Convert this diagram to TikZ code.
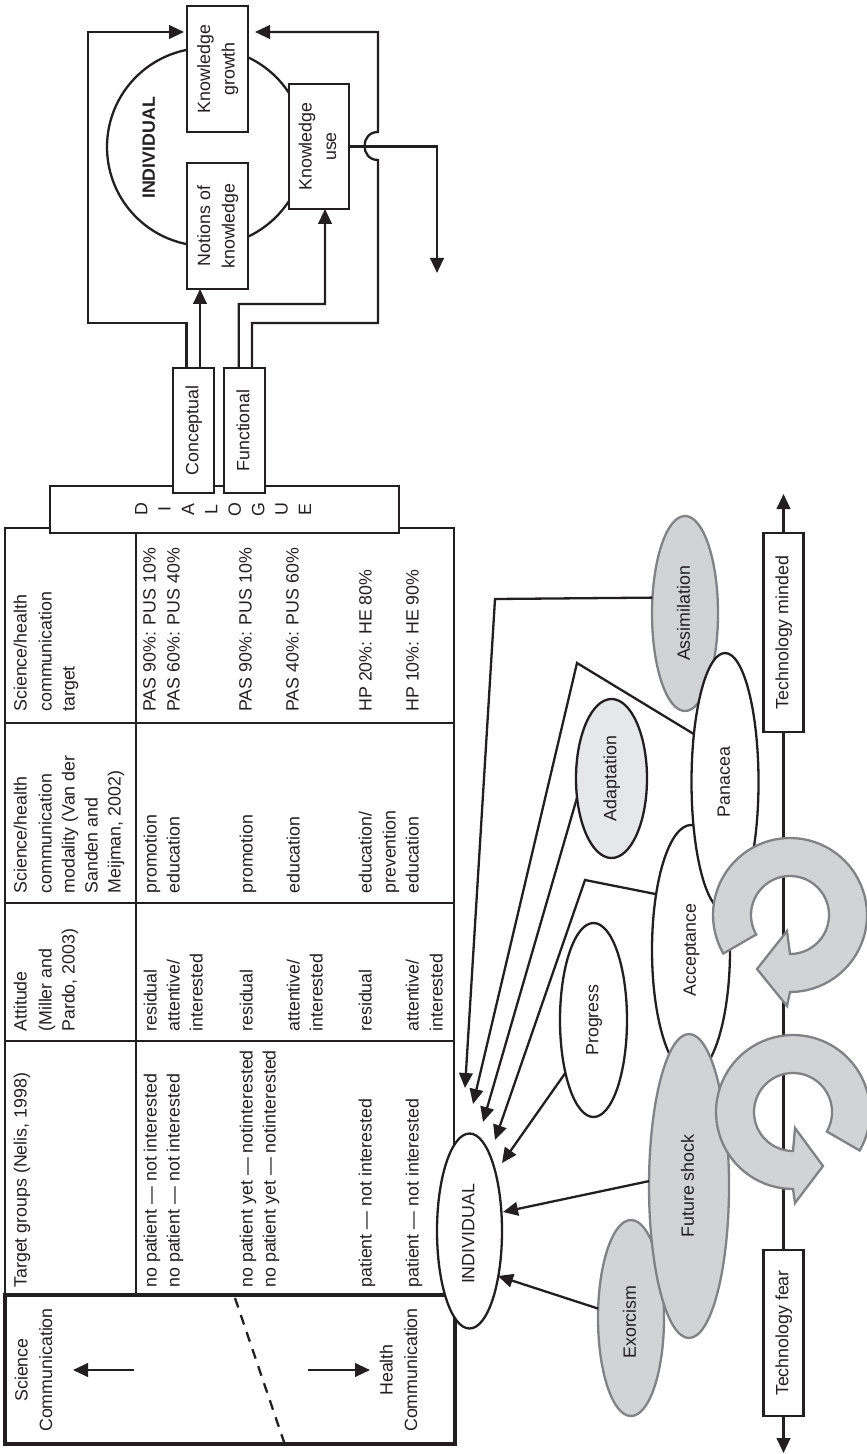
\documentclass[tikz,border=0pt]{standalone}
\usepackage{fontspec}
\usepackage{graphicx}
\setmainfont{Liberation Sans}
\usetikzlibrary{shapes.geometric,arrows.meta}
\definecolor{ink}{HTML}{231F20}
\definecolor{ringfill}{HTML}{D1D3D4}
\definecolor{ringline}{HTML}{808285}
\definecolor{paleg}{HTML}{E6E7E8}
\newcommand{\rt}[1]{\rotatebox{90}{\def\arraystretch{1.05}\begin{tabular}{@{}c@{}}#1\end{tabular}}}
\newcommand{\rtd}[1]{\rotatebox{90}{\def\arraystretch{1}\begin{tabular}{@{}c@{}}#1\end{tabular}}}
\tikzset{
  base/.style={line width=1.15pt,draw=ink,text=ink,inner sep=0pt,outer sep=0pt,line join=miter},
  boxn/.style={base,rectangle,fill=white},
  ell/.style={base,ellipse,fill=white},
  ellg/.style={base,ellipse,fill=ringfill,draw=ringline},
  arrowline/.style={line width=1.15pt,draw=ink,-{Triangle[length=7.5pt,width=6.8pt]},line join=miter},
  plain/.style={line width=1.15pt,draw=ink,line join=miter},
  cell/.style={rotate=90,anchor=west,inner sep=0pt,text=ink,text height=6.5pt,text depth=1.9pt},
  lbl/.style={inner sep=0pt,text=ink},
  ringshape/.style={line width=1.15pt,draw=ringline,fill=ringfill,line join=miter},
}
\begin{document}
\begin{tikzpicture}[x=0.5pt,y=-0.5pt,font=\fontsize{8.9}{11.7}\selectfont]
\useasboundingbox[fill=white] (0,0) rectangle (866,1454);

% ---- table ----
\draw[plain] (5,528) rectangle (454,1295);
\draw[plain] (136,528) -- (136,1295);
\draw[plain] (5,723) -- (454,723);
\draw[plain] (5,903) -- (454,903);
\draw[plain] (5,1041) -- (454,1041);

\foreach \xx/\txt [count=\i] in {22/{Science/health},47/communication,70/target,
  151/{PAS 90\%: PUS 10\%},175/{PAS 60\%: PUS 40\%},247/{PAS 90\%: PUS 10\%},294/{PAS 40\%: PUS 60\%},367/{HP 20\%: HE 80\%},414/{HP 10\%: HE 90\%}}
  \node[cell] (ca\i) at (\xx,712) {\txt};
\foreach \xx/\txt [count=\i] in {22/{Science/health},47/communication,70/{modality (Van der},93/{Sanden and},116/{Meijman, 2002)},
  152/promotion,175/education,248/promotion,295/education,367/{education/},391/prevention,414/education}
  \node[cell] (cb\i) at (\xx,894) {\txt};
\foreach \xx/\txt [count=\i] in {22/Attitude,47/{(Miller and},70/{Pardo, 2003)},
  152/residual,175/{attentive/},198/interested,248/residual,295/{attentive/},318/interested,367/residual,414/{attentive/},438/interested}
  \node[cell] (cc\i) at (\xx,1032) {\txt};
\foreach \xx/\txt [count=\i] in {22/{Target groups (Nelis, 1998)},
  152/{no patient --- not interested},175/{no patient --- not interested},
  248/{no patient yet --- notinterested},271/{no patient yet --- notinterested},
  367/{patient --- not interested},414/{patient --- not interested}}
  \node[cell] (cd\i) at (\xx,1288) {\txt};

% ---- thick box ----
\node[boxn,line width=2pt,minimum width=225pt,minimum height=74.5pt] (thick) at (230,1369.5) {};
\coordinate (dashA) at (235,1298);
\coordinate (dashB) at (284,1442);
\draw[plain,dash pattern=on 5pt off 4pt] (dashA) -- (dashB);
\coordinate (sciS) at (134,1370);
\coordinate (sciT) at (73,1370);
\coordinate (heaS) at (308,1370);
\coordinate (heaT) at (370,1370);
\draw[arrowline] (sciS) -- (sciT);
\draw[arrowline] (heaS) -- (heaT);
\node[lbl] (scicom) at (35,1370) {\rt{Science\\Communication}};
\node[lbl] (heacom) at (400,1370) {\rt{Health\\Communication}};

% ---- upper individual ----
\node[base,circle,fill=white,minimum size=99pt] (indcircle) at (206,147) {};
\node[lbl,font=\fontsize{8.9}{11.7}\selectfont\bfseries] (indlabel) at (150,148) {\rt{INDIVIDUAL}};
\node[boxn,minimum width=30.5pt,minimum height=63pt] (growth) at (217.5,69) {\rt{Knowledge\\growth}};
\node[boxn,minimum width=30.5pt,minimum height=63pt] (notions) at (217.5,226) {\rt{Notions of\\knowledge}};
\node[boxn,minimum width=30pt,minimum height=62.5pt] (use) at (319,146.5) {\rt{Knowledge\\use}};

% ---- dialogue ----
\node[boxn,minimum width=174.5pt,minimum height=23.5pt] (dialogue) at (224.5,509.5) {\rtd{D\\I\\A\\L\\O\\G\\U\\E}};
\node[boxn,minimum width=20.5pt,minimum height=62.5pt] (conc) at (193.5,430.5) {\rt{Conceptual}};
\node[boxn,minimum width=20.5pt,minimum height=62.5pt] (func) at (244.5,430.5) {\rt{Functional}};

% ---- connectors upper ----
\draw[arrowline,shorten >=1.5pt] ([xshift=-3.5pt]conc.north) -- (186.5,323) -- (88,323) -- (88,32) -- ([yshift=18.5pt]growth.west);
\draw[arrowline] ([xshift=3.25pt]conc.north) -- ([xshift=-8.75pt]notions.south);
\draw[arrowline] ([xshift=-2.9pt]func.north) -- (238.7,304) -- (325,304) -- ([xshift=3pt]use.south);
\draw[arrowline,shorten >=3.5pt] ([xshift=3.75pt]func.north) -- (252,323) -- (378,323) -- (378,160)
   .. controls (360,160) and (360,132) .. (378,132) -- (378,32) -- ([yshift=18.5pt]growth.east);
\coordinate (useT) at (437,273);
\draw[arrowline] (use.east) -- (437,146.5) -- (useT);

% ---- axis ----
\node[boxn,minimum width=20pt,minimum height=99.5pt] (minded) at (783.5,632.5) {\rt{Technology minded}};
\node[boxn,minimum width=20pt,minimum height=83pt] (fear) at (783.5,1333) {\rt{Technology fear}};
\coordinate (mindedT) at (783.5,494);
\coordinate (fearT) at (783.5,1453);
\draw[plain] (minded.south) -- (fear.north);
\draw[arrowline] (minded.north) -- (mindedT);
\draw[arrowline] (fear.south) -- (fearT);

% ---- ellipses ----
\node[ellg,minimum width=33pt,minimum height=97.5pt] (assim) at (685,613.5) {\rt{Assimilation}};
\node[base,ellipse,fill=paleg,minimum width=35.5pt,minimum height=79.5pt] (adapt) at (611.5,778.5) {\rt{Adaptation}};
\node[ell,minimum width=33.5pt,minimum height=97pt] (progress) at (593.5,1020) {\rt{Progress}};
\node[ell,minimum width=39pt,minimum height=125pt] (accept) at (691,950) {\rt{Acceptance}};
\node[ell,minimum width=33.5pt,minimum height=129pt] (panacea) at (725,782) {\rt{Panacea}};
\node[ellg,minimum width=33pt,minimum height=98pt] (exorcism) at (631,1318) {\rt{Exorcism\hspace*{4pt}}};
\node[ellg,minimum width=40pt,minimum height=152pt] (future) at (689,1186) {\rt{Future shock}};
\node[ell,minimum width=32.5pt,minimum height=97.5pt] (indiv) at (469.5,1231) {\rt{INDIVIDUAL\hspace*{3pt}}};

% ---- connectors lower ----
\coordinate (tipA) at (465,1088);
\coordinate (tipB) at (473,1104);
\coordinate (tipC) at (483,1122);
\coordinate (tipD) at (495,1140);
\coordinate (tipE) at (502,1163);
\coordinate (tipF) at (503,1212);
\coordinate (tipG) at (498,1276);
\draw[arrowline] (assim.154) -- (495,599) -- (tipA);
\draw[arrowline] (panacea.123) -- (577,663) -- (tipB);
\draw[arrowline] (adapt.209) -- (tipC);
\draw[arrowline] (accept.122) -- (585,880) -- (tipD);
\draw[arrowline] (progress.242) -- (tipE);
\draw[arrowline] (future.173) -- (tipF);
\draw[arrowline] (exorcism.164) -- (tipG);

% ---- ring arrows ----
\draw[ringshape] plot[domain=150:450,samples=70] ({790+77*cos(\x)},{915+77*sin(\x)})
   -- (787,1006) -- (757,969) -- (787,931)
   -- plot[domain=450:150,samples=70] ({790+39*cos(\x)},{915+39*sin(\x)}) -- cycle;
\draw[ringshape] plot[domain=30:-270,samples=70] ({793+77*cos(\x)},{1112+77*sin(\x)})
   -- (795,1203) -- (823,1166) -- (795,1128)
   -- plot[domain=-270:30,samples=70] ({793+39*cos(\x)},{1112+39*sin(\x)}) -- cycle;
\end{tikzpicture}
\end{document}
